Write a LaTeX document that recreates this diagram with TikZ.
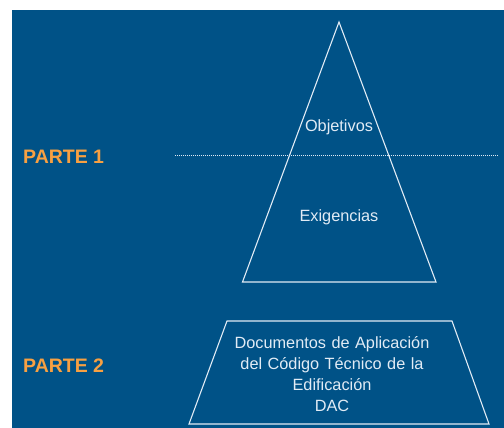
\documentclass[tikz,border=0pt]{standalone}
\usepackage{fontspec}
\setmainfont{Liberation Sans}
\definecolor{bgblue}{RGB}{0,82,135}
\definecolor{parteorange}{RGB}{247,160,66}
\definecolor{linewhite}{RGB}{225,235,245}
\begin{document}
\begin{tikzpicture}[x=1pt,y=-1pt,
  shapeline/.style={draw=linewhite,line width=1.1pt,line join=miter},
  dotline/.style={draw=linewhite,line width=0.8pt,dash pattern=on 0.9pt off 1.1pt},
  bodytext/.style={text=linewhite,font=\fontsize{16.3}{21}\selectfont,align=center,inner sep=0pt},
  partetext/.style={text=parteorange,font=\fontsize{19.5}{23}\selectfont\bfseries,anchor=west,inner sep=0pt}]
\useasboundingbox (0,0) rectangle (504,428);
\fill[white] (0,0) rectangle (504,428);
\fill[bgblue] (12,10) rectangle (504,428);
% triangle
\coordinate (apex) at (339,22);
\coordinate (bl) at (242.5,282);
\coordinate (br) at (436,282);
\draw[shapeline] (apex) -- (br) -- (bl) -- cycle;
% dotted separator
\coordinate (dl) at (175,155.5);
\coordinate (dr) at (498,155.5);
\draw[dotline] (dl) -- (dr);
% trapezoid
\coordinate (tl) at (227,321);
\coordinate (tr) at (452,321);
\coordinate (tbr) at (489,424);
\coordinate (tbl) at (189,424);
\draw[shapeline] (tl) -- (tr) -- (tbr) -- (tbl) -- cycle;
% texts
\node[bodytext] (obj) at (339,127) {Objetivos};
\node[bodytext] (exi) at (339,217) {Exigencias};
\node[bodytext,text width=240pt] (dac) at (332,374.5) {Documentos de Aplicación\\del Código Técnico de la\\Edificación\\DAC};
\node[partetext] (p1) at (23,157) {PARTE 1};
\node[partetext] (p2) at (23,366) {PARTE 2};
\end{tikzpicture}
\end{document}
